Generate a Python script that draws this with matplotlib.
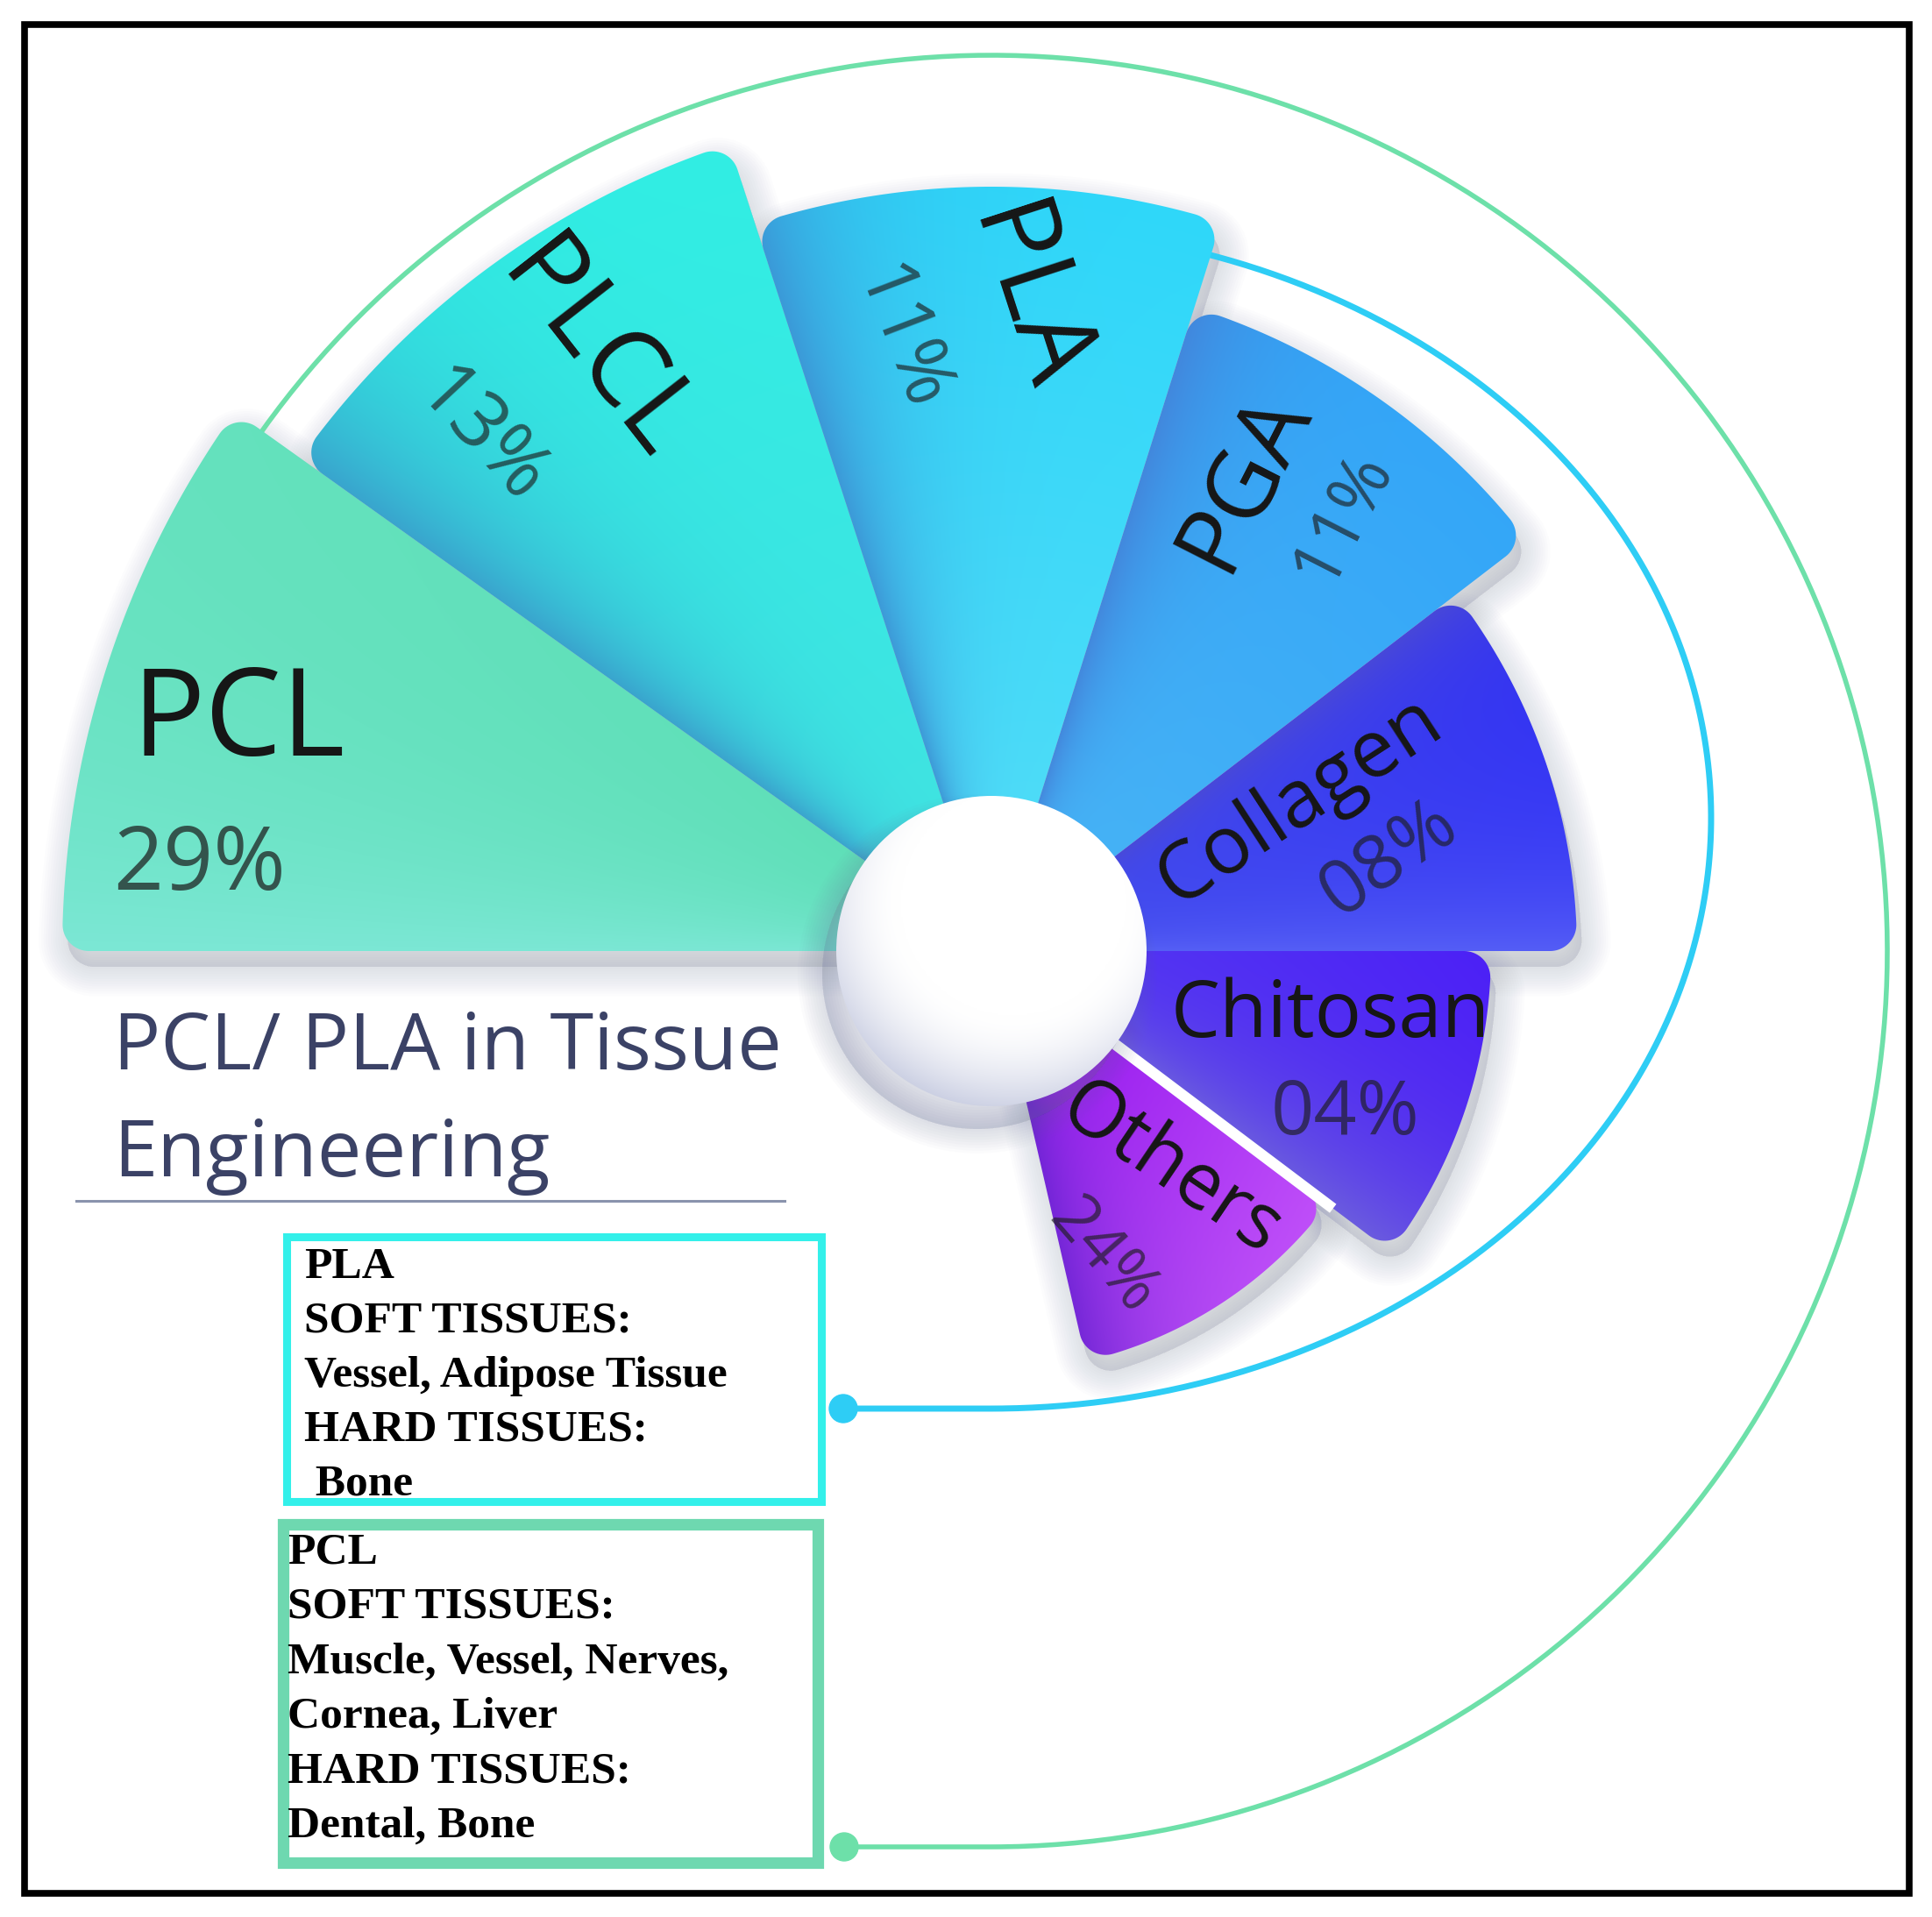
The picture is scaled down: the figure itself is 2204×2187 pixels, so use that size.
import numpy as np
import matplotlib
matplotlib.use("Agg")
from matplotlib import pyplot as plt
from matplotlib.patches import Polygon, Circle, Rectangle
from matplotlib.colors import to_rgb

# data: materials, shares and labels
names = ["PCL", "PLCL", "PLA", "PGA", "Collagen", "Chitosan", "Others"]
shares = ["29%", "13%", "11%", "11%", "08%", "04%", "24%"]
pla_lines = ["PLA", "SOFT TISSUES:", "Vessel, Adipose Tissue", "HARD TISSUES:", " Bone"]
pcl_lines = ["PCL", "SOFT TISSUES:", "Muscle, Vessel, Nerves,", "Cornea, Liver", "HARD TISSUES:", "Dental, Bone"]
title_lines = ["PCL/ PLA in Tissue", "Engineering"]

# layout of the fan (image pixel coords, y down)
W, H = 2204, 2187
cx, cy = 1131, 1085
t_lo = [144.5, 108, 72.5, 37.5, 0, -37, -77]
t_hi = [180, 144.5, 108, 72.5, 37.5, 0, -37]
radii = [1060, 968, 872, 770, 668, 570, 480]

# (inner, outer, low-edge colour, low width, high-edge colour, high width)
shade = [
    ("#5ddfb6", "#62e1bb", "#5ddfb6", 1, "#7fe8d8", 14),
    ("#3fe4e2", "#31efe4", "#31efe4", 1, "#3a9ccb", 8),
    ("#4ddcf8", "#2fd8fa", "#2fd8fa", 1, "#3c92d4", 7),
    ("#45b2f6", "#34a7f8", "#34a7f8", 1, "#4384da", 6),
    ("#4048ee", "#3232f4", "#5862f6", 9, "#4a4ad6", 5),
    ("#5030f4", "#4a1cf8", "#6e62dc", 14, "#4a1cf8", 1),
    ("#a024f2", "#c250fa", "#6e24d4", 12, "#a828f6", 1),
]

fig = plt.figure(figsize=(W / 100, H / 100), dpi=100)
ax = fig.add_axes([0, 0, 1, 1])
ax.set_xlim(0, W)
ax.set_ylim(H, 0)
ax.axis("off")


def pt(r, t, ox=cx, oy=cy):
    t = np.radians(t)
    return ox + r * np.cos(t), oy - r * np.sin(t)


def sector(R, t1, t2, rc=30):
    phi = np.degrees(np.arcsin(rc / (R - rc)))
    pts = [(cx, cy)]
    c1 = pt(R - rc, t1 + phi)
    for a in np.linspace(t1 - 90, t1 + phi, 20):
        pts.append(pt(rc, a, *c1))
    for a in np.linspace(t1 + phi, t2 - phi, 120):
        pts.append(pt(R, a))
    c2 = pt(R - rc, t2 - phi)
    for a in np.linspace(t2 - phi, t2 + 90, 20):
        pts.append(pt(rc, a, *c2))
    return np.array(pts)


def mix(a, b, f):
    return a * (1 - f[..., None]) + np.array(to_rgb(b)) * f[..., None]


# soft shadows under the fan, mostly falling downwards
for R, a, b in zip(radii, t_lo, t_hi):
    p = sector(R, a, b) + np.array([6, 18])
    for lw in np.linspace(4, 48, 12):
        ax.add_patch(Polygon(p, closed=True, fc="#6a7398", ec="#6a7398", lw=lw,
                             alpha=0.016, joinstyle="round", zorder=1))

# connector arcs
ta = np.linspace(145, -90, 400)
gx, gy = pt(1022, ta)
ax.plot(np.r_[gx, 963], np.r_[gy, cy + 1022], color="#6de0a9", lw=4, zorder=1.5,
        solid_capstyle="round")
ax.add_patch(Circle((963, cy + 1022), 16, color="#6de0a9", zorder=1.5))
tb = np.radians(np.linspace(73, -90, 400))
bx, by = 1131 + 821 * np.cos(tb), 933 - 674 * np.sin(tb)
ax.plot(np.r_[bx, 962], np.r_[by, 1607], color="#2ecdf5", lw=5, zorder=1.5,
        solid_capstyle="round")
ax.add_patch(Circle((962, 1607), 16, color="#2ecdf5", zorder=1.5))

# wedges with gradient fill
for i, (R, a, b) in enumerate(zip(radii, t_lo, t_hi)):
    poly = Polygon(sector(R, a, b), closed=True, fc="none", ec="none", zorder=2)
    ax.add_patch(poly)
    cin, cout, clo, wlo, chi, whi = shade[i]
    n = 360
    X, Y = np.meshgrid(np.linspace(cx - R, cx + R, n), np.linspace(cy - R, cy + R, n))
    dx, dy = X - cx, cy - Y
    th = np.degrees(np.arctan2(dy, dx))
    if a > 100:
        th = np.where(th < 0, th + 360, th)
    r = np.hypot(dx, dy)
    img = mix(np.tile(np.array(to_rgb(cin)), (n, n, 1)), cout, np.clip((r - 180) / (R - 180), 0, 1))
    img = mix(img, clo, 0.9 * np.exp(-np.clip(th - a, 0, None) / wlo) * (wlo > 1))
    img = mix(img, chi, 0.9 * np.exp(-np.clip(b - th, 0, None) / whi) * (whi > 1))
    im = ax.imshow(img, extent=(cx - R, cx + R, cy + R, cy - R), origin="upper",
                   interpolation="bilinear", zorder=3)
    im.set_clip_path(poly)

# white gap between Chitosan and Others
x0, y0 = pt(170, -37)
x1, y1 = pt(488, -37)
ax.plot([x0, x1], [y0, y1], color="white", lw=9, zorder=4, solid_capstyle="butt")

# centre ball with a faint shadow
for lw in np.linspace(0, 40, 10):
    ax.add_patch(Circle((cx - 16, cy + 26), 177, fc="#6a7398", ec="#6a7398", lw=lw,
                        alpha=0.025, zorder=5))
ball = Circle((cx, cy), 177, fc="none", ec="none", zorder=6)
ax.add_patch(ball)
n = 300
X, Y = np.meshgrid(np.linspace(cx - 180, cx + 180, n), np.linspace(cy - 180, cy + 180, n))
d = np.hypot(X - (cx + 25), Y - (cy - 55)) / 215
ball_img = mix(np.ones((n, n, 3)), "#c4c9df", np.clip((d - 0.6) / 0.55, 0, 1) ** 1.7)
im = ax.imshow(ball_img, extent=(cx - 180, cx + 180, cy + 180, cy - 180), origin="upper",
               interpolation="bilinear", zorder=6)
im.set_clip_path(ball)

# labels inside the wedges
sans = "Open Sans"
name_pos = [(150, 862), (678, 402), (1169, 342), (1420, 548), (1483, 914), (1518, 1160), (1335, 1335)]
name_rot = [0, -52, -72, 63, 33, 0, -34]
name_size = [100, 88, 88, 78, 66, 64, 64]
pct_pos = [(129, 1015), (548, 499), (1026, 387), (1532, 590), (1585, 980), (1535, 1272), (1258, 1434)]
pct_rot = [0, -47, -69, 63, 35, 0, -49]
pct_size = [72, 64, 62, 58, 62, 62, 54]
for i in range(len(names)):
    if i == 0:
        ax.text(*name_pos[i], names[i], fontsize=name_size[i], family=sans, color="#161616",
                ha="left", va="baseline", zorder=7)
        ax.text(*pct_pos[i], shares[i], fontsize=pct_size[i], family=sans, color="#1c1c1c",
                alpha=0.72, ha="left", va="baseline", zorder=7)
    else:
        ax.text(*name_pos[i], names[i], fontsize=name_size[i], family=sans, color="#161616",
                ha="center", va="center", rotation=name_rot[i], rotation_mode="anchor", zorder=7)
        ax.text(*pct_pos[i], shares[i], fontsize=pct_size[i], family=sans, color="#1c1c1c",
                alpha=0.65, ha="center", va="center", rotation=pct_rot[i],
                rotation_mode="anchor", zorder=7)

# title and rule
ax.text(129, 1220, title_lines[0], fontsize=65, family=sans, color="#3b4266", va="baseline")
ax.text(129, 1342, title_lines[1], fontsize=65, family=sans, color="#3b4266", va="baseline")
ax.plot([87, 895], [1370, 1370], color="#8a93ad", lw=2.2)

# application boxes
ax.add_patch(Rectangle((327, 1411), 610, 302, fill=False, ec="#33f0ea", lw=6.5, zorder=2))
ax.add_patch(Rectangle((323, 1739), 610, 386, fill=False, ec="#6ed8b0", lw=9.5, zorder=2))
serif = "Liberation Serif"
for k, s in enumerate(pla_lines):
    ax.text(347, 1458 + 62 * k, s, fontsize=37, family=serif, weight="bold", va="baseline")
for k, s in enumerate(pcl_lines):
    ax.text(328, 1783 + 62.6 * k, s, fontsize=37, family=serif, weight="bold", va="baseline")

# outer frame
ax.add_patch(Rectangle((28, 28), 2150, 2132, fill=False, ec="black", lw=5.5, zorder=8))

fig.savefig("out.png", dpi=100)
